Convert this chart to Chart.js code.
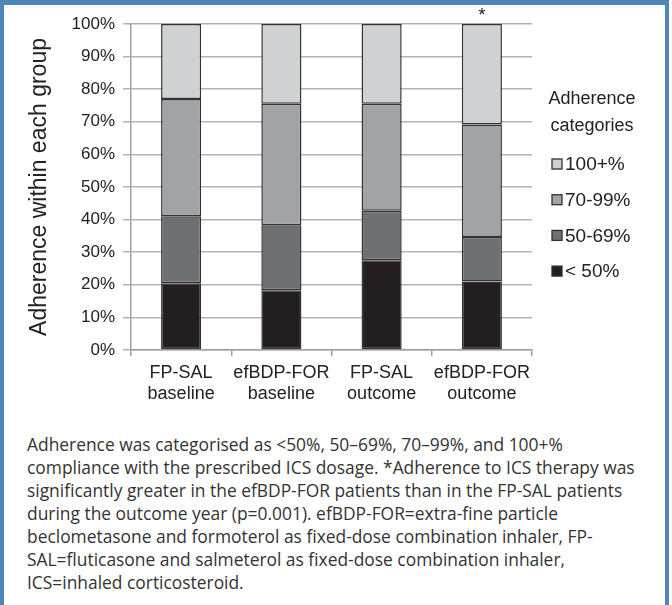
<!DOCTYPE html>
<html>
<head>
<meta charset="utf-8">
<title>Adherence within each group</title>
<script src="https://cdn.jsdelivr.net/npm/chart.js@4"></script>
<style>
    body { margin: 0; background: #fff; }
    #frame { position: absolute; left: 0; top: 0; width: 661px; height: 620px; border: 4px solid #5085b9; border-top-width: 5px; background: #fff; }
    #chartBox { position: absolute; left: 0; top: 0; width: 661px; height: 410px; }
    #caption { position: absolute; left: 23px; top: 428px; font-family: "Open Sans", sans-serif; font-size: 17.4px; line-height: 23px; color: #333; white-space: nowrap; }
</style>
</head>
<body>
<div id="frame">
    <div id="chartBox"><canvas id="adherenceChart"></canvas></div>
    <div id="caption">
        Adherence was categorised as &lt;50%, 50–69%, 70–99%, and 100+%<br>
        compliance with the prescribed ICS dosage. *Adherence to ICS therapy was<br>
        significantly greater in the efBDP-FOR patients than in the FP-SAL patients<br>
        during the outcome year (p=0.001). efBDP-FOR=extra-fine particle<br>
        beclometasone and formoterol as fixed-dose combination inhaler, FP-<br>
        SAL=fluticasone and salmeterol as fixed-dose combination inhaler,<br>
        ICS=inhaled corticosteroid.
    </div>
</div>
<script>
// groups on the x axis (two-line labels)
const groups = [["FP-SAL", "baseline"], ["efBDP-FOR", "baseline"], ["FP-SAL", "outcome"], ["efBDP-FOR", "outcome"]];
// adherence categories, bottom of the stack first
const categoryNames = ["< 50%", "50-69%", "70-99%", "100+%"];
const below50 = [20.5, 18.3, 27.5, 21.0];
const from50to69 = [20.5, 20.0, 15.2, 13.7];
const from70to99 = [36.0, 37.2, 32.8, 34.5];
const over100 = [23.0, 24.5, 24.5, 30.8];
const starred = [false, false, false, true];
const legendTitle = ["Adherence", "categories"];

const fills = ["#231f20", "#6f7074", "#a2a3a6", "#d0d1d3"];

Chart.defaults.font.family = "'Liberation Sans', Arial, sans-serif";
Chart.defaults.color = "#222";

// legend on the right (top category first) and the asterisk above the starred bar
const extras = {
    id: "extras",
    afterDraw(chart) {
        const ctx = chart.ctx;
        const area = chart.chartArea;
        const xScale = chart.scales.x;
        const yScale = chart.scales.y;
        ctx.save();
        ctx.fillStyle = "#222";
        ctx.textBaseline = "middle";

        ctx.font = "19px 'Liberation Sans'";
        ctx.textAlign = "center";
        starred.forEach((s, i) => {
            if (s) ctx.fillText("*", xScale.getPixelForValue(i), yScale.getPixelForValue(100) - 8);
        });

        const boxLeft = area.right + 20;
        ctx.font = "18px 'Liberation Sans'";
        ctx.fillText(legendTitle[0], boxLeft + 40, 94);
        ctx.fillText(legendTitle[1], boxLeft + 40, 121);

        ctx.textAlign = "left";
        ctx.font = "19px 'Liberation Sans'";
        const sets = chart.data.datasets;
        for (let k = 0; k < sets.length; k++) {
            const ds = sets[sets.length - 1 - k];
            const y = 159 + k * 35.7;
            ctx.fillStyle = ds.backgroundColor;
            ctx.fillRect(boxLeft, y - 5, 10, 10);
            ctx.strokeStyle = "#333";
            ctx.lineWidth = 1.3;
            ctx.strokeRect(boxLeft, y - 5, 10, 10);
            ctx.fillStyle = "#222";
            ctx.fillText(ds.label, boxLeft + 13, y + 1);
        }
        ctx.restore();
    }
};

const seriesValues = [below50, from50to69, from70to99, over100];

new Chart(document.getElementById("adherenceChart"), {
    type: "bar",
    data: {
        labels: groups,
        datasets: categoryNames.map((name, i) => ({
            label: name,
            data: seriesValues[i],
            backgroundColor: fills[i],
            borderColor: "#333",
            borderWidth: 1.5,
            borderSkipped: false,
            barPercentage: 0.4,
            categoryPercentage: 1
        }))
    },
    options: {
        responsive: true,
        maintainAspectRatio: false,
        animation: false,
        layout: { padding: { top: 19, right: 133, left: 0, bottom: 0 } },
        plugins: {
            legend: { display: false },
            tooltip: { enabled: false }
        },
        scales: {
            x: {
                stacked: true,
                grid: { drawOnChartArea: false, tickLength: 6, color: "#a0a0a0", lineWidth: 1.5 },
                border: { color: "#a0a0a0", width: 1.5 },
                ticks: { color: "#222", font: { size: 18 }, padding: 6, maxRotation: 0 },
                afterFit: scale => { scale.height = 65; }
            },
            y: {
                stacked: true,
                min: 0,
                max: 100,
                ticks: { stepSize: 10, callback: v => v + "%", color: "#222", font: { size: 17 }, padding: 8 },
                grid: { color: "#b3b3b3", lineWidth: 1.5, tickLength: 8 },
                border: { color: "#a0a0a0", width: 1.5 },
                title: {
                    display: true,
                    text: "Adherence within each group",
                    color: "#222",
                    font: { size: 23 },
                    padding: { top: 22, bottom: 0 }
                },
                afterFit: scale => { scale.width = 127; }
            }
        }
    },
    plugins: [extras]
});
</script>
</body>
</html>
